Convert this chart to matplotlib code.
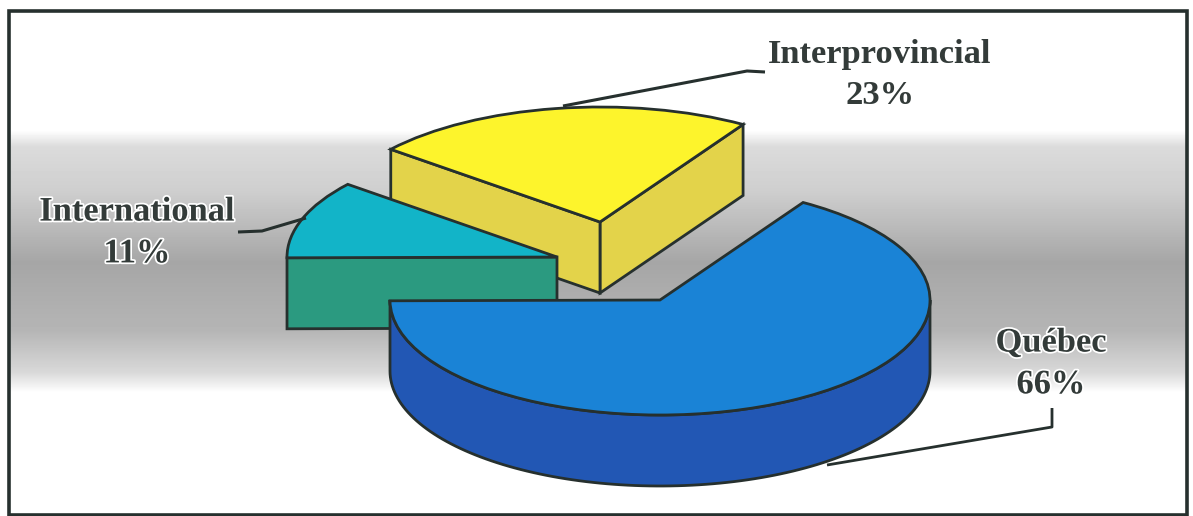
import numpy as np
import matplotlib
matplotlib.use('Agg')
import matplotlib.pyplot as plt
import matplotlib.patheffects as pe
from matplotlib.patches import Wedge, Polygon, Rectangle
from matplotlib.transforms import Affine2D

# shares, starting from the edge between Quebec and Interprovincial, going counter clockwise
labels = ['Interprovincial', 'International', 'Québec']
shares = [23, 11, 66]
top_colors = ['#fdf42c', '#12b4c8', '#1a83d6']
side_colors = ['#e3d34a', '#2b9a80', '#2257b4']

W, H = 1193, 516
INK = '#26302e'
RX, RY = 270, 115
DEPTH = 71
START = 58

fig = plt.figure(figsize=(W / 100, H / 100), dpi=100)
ax = fig.add_axes([0, 0, 1, 1])
ax.set_xlim(0, W)
ax.set_ylim(H, 0)
ax.axis('off')

# grey band behind the pie
ys = np.arange(H)
band = np.interp(ys, [0, 130, 146, 190, 262, 330, 372, 392, 516],
                 [1, 1, 0.86, 0.81, 0.65, 0.71, 0.85, 1, 1])
ax.imshow(band[:, None], cmap='gray', vmin=0, vmax=1, aspect='auto',
          extent=[10, 1187, H, 0], zorder=0)

# angle range of each slice from the shares
edges = START + np.cumsum([0] + shares) * 3.6
spans = dict(zip(labels, zip(edges[:-1], edges[1:])))
slices = dict(zip(labels, zip(top_colors, side_colors)))
centers = {'Interprovincial': (600, 222), 'International': (557, 257), 'Québec': (660, 300)}


def point(label, ang, drop=0):
    cx, cy = centers[label]
    return (cx + RX * np.cos(np.radians(ang)), cy - RY * np.sin(np.radians(ang)) + drop)


def top(label, z):
    cx, cy = centers[label]
    a, b = spans[label]
    tr = Affine2D().scale(RX, -RY).translate(cx, cy) + ax.transData
    ax.add_patch(Wedge((0, 0), 1, a, b, transform=tr, fc=slices[label][0],
                       ec=INK, lw=2, zorder=z, joinstyle='miter'))


def face(label, ang, z):
    # flat cut face, from the apex out to the rim
    cx, cy = centers[label]
    px, py = point(label, ang)
    pts = [(cx, cy), (px, py), (px, py + DEPTH), (cx, cy + DEPTH)]
    ax.add_patch(Polygon(pts, closed=True, fc=slices[label][1], ec=INK, lw=2, zorder=z))


# yellow slice
a, b = spans['Interprovincial']
face('Interprovincial', a, 2)
face('Interprovincial', b, 2)
top('Interprovincial', 3)

# teal slice
a, b = spans['International']
face('International', b, 4)
top('International', 5)

# blue slice, outer wall is only seen on the front half
a, b = spans['Québec']
th = np.linspace(180, 360, 120)
rim = [point('Québec', t) for t in th]
low = [point('Québec', t, DEPTH) for t in th[::-1]]
ax.add_patch(Polygon(rim + low, closed=True, fc=slices['Québec'][1], ec=INK, lw=2, zorder=6))
top('Québec', 7)

# leader lines
ax.plot([563, 747, 765], [106, 71, 72], color=INK, lw=2.2, zorder=8, solid_capstyle='butt')
ax.plot([306, 262, 238], [218, 231, 232], color=INK, lw=2.2, zorder=8, solid_capstyle='butt')
ax.plot([827, 1052, 1052], [465, 427, 408], color=INK, lw=2, zorder=8, solid_capstyle='butt')

# labels, the ones on the grey band have a pale halo
halo = [pe.withStroke(linewidth=2.5, foreground='white')]
text_kw = dict(ha='center', va='center', family='Liberation Serif', weight='bold',
               color='#333b39', zorder=9, linespacing=1.45)
ax.text(880, 75, 'Interprovincial\n%d%%' % shares[0], fontsize=24.8, **text_kw)
ax.text(137, 233, 'International\n%d%%' % shares[1], fontsize=24.8, path_effects=halo, **text_kw)
ax.text(1051, 364, 'Québec\n%d%%' % shares[2], fontsize=24.8, path_effects=halo, **text_kw)

# frame
ax.add_patch(Rectangle((8.5, 10.5), 1178.5, 504, fill=False, ec=INK, lw=2.6, zorder=10))

fig.savefig('out.png', dpi=100)
